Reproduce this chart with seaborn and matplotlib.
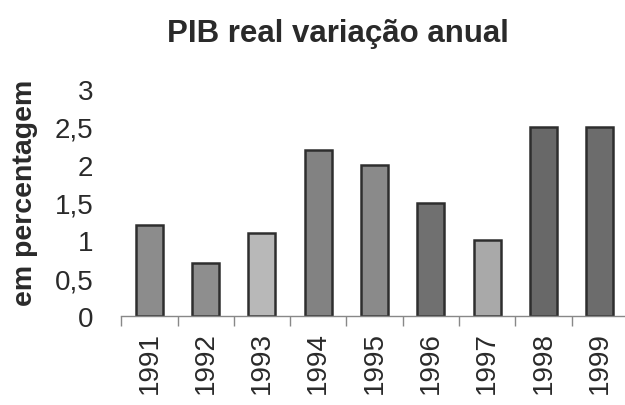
import matplotlib
matplotlib.use("Agg")
import matplotlib.pyplot as plt
import seaborn as sns
import pandas as pd
from matplotlib.ticker import FixedLocator, FuncFormatter

# data
years = ["1991", "1992", "1993", "1994", "1995", "1996", "1997", "1998", "1999"]
growth = [1.2, 0.7, 1.1, 2.2, 2.0, 1.5, 1.0, 2.5, 2.5]
bar_shades = ["#8c8c8c", "#8e8e8e", "#b8b8b8", "#828282", "#8a8a8a",
              "#707070", "#a9a9a9", "#686868", "#6c6c6c"]

df = pd.DataFrame({"ano": years, "pib": growth})

sns.set_style("white")
plt.rcParams["font.family"] = ["Liberation Sans", "DejaVu Sans"]

fig = plt.figure(figsize=(6.25, 4.06), dpi=100)
ax = fig.add_axes([0.194, 0.219, 0.806, 0.559])

sns.barplot(data=df, x="ano", y="pib", hue="ano", palette=bar_shades,
            legend=False, width=0.48, edgecolor="#2e2e2e", linewidth=1.8,
            saturation=1, ax=ax)

ax.set_ylim(0, 3)
ax.set_xlim(-0.5, 8.45)
ax.set_yticks([0, 0.5, 1, 1.5, 2, 2.5, 3])
ax.yaxis.set_major_formatter(FuncFormatter(lambda v, p: f"{v:g}".replace(".", ",")))
ax.tick_params(axis="y", length=0, pad=20, labelsize=20, labelcolor="#2a2a2a")

# ticks between categories on the x axis
ax.xaxis.set_minor_locator(FixedLocator([i - 0.5 for i in range(len(years) + 1)]))
ax.tick_params(axis="x", which="major", length=0, pad=11, labelsize=20,
               rotation=90, labelcolor="#2a2a2a")
ax.tick_params(axis="x", which="minor", bottom=True, length=7, width=1,
               color="#888888", direction="out")

for s in ["top", "right", "left"]:
    ax.spines[s].set_visible(False)
ax.spines["bottom"].set_color("#888888")
ax.spines["bottom"].set_linewidth(1)

ax.set_xlabel("")
ax.set_ylabel("em percentagem", fontsize=20.5, fontweight="bold", color="#2a2a2a")
ax.yaxis.set_label_coords(-0.165, 0.548)
fig.suptitle("PIB real variação anual", fontsize=22.5, fontweight="bold",
             color="#2a2a2a", x=0.541, y=0.952)

fig.savefig("out.png", dpi=100)
